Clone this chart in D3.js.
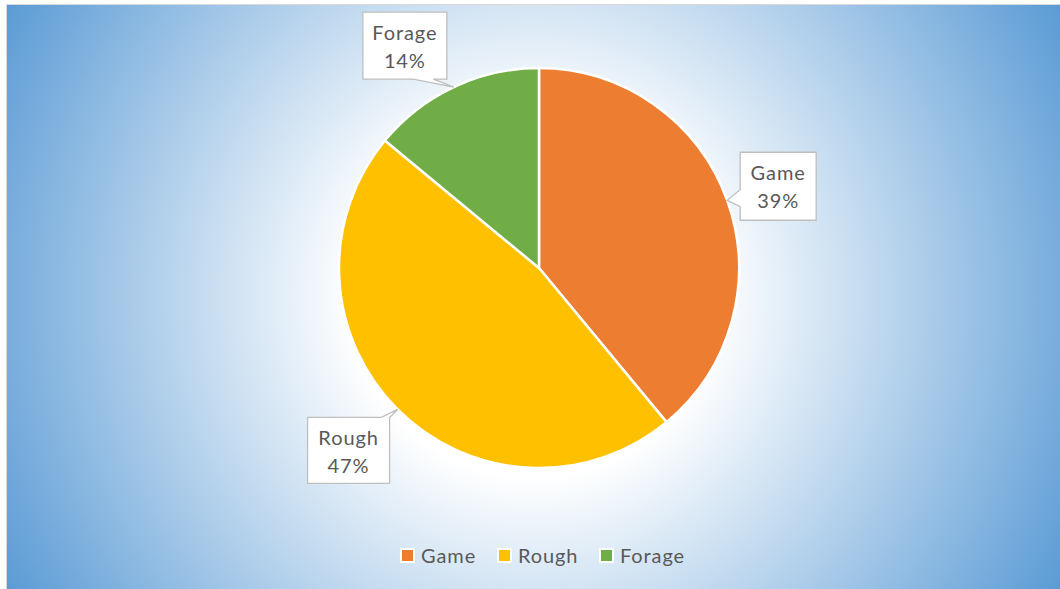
<!DOCTYPE html>
<html>
<head>
<meta charset="utf-8">
<script src="https://cdn.jsdelivr.net/npm/d3@7"></script>
<style>
  body { margin: 0; background: #fff; }
  svg { display: block; }
</style>
</head>
<body>
<script>
// data
var categories = ["Game", "Rough", "Forage"];
var shares = [39, 47, 14];
var colors = ["#ED7D31", "#FFC000", "#70AD47"];

var w = 1060, h = 589;
var cx = 539, cy = 268, radius = 200;

var svg = d3.select("body").append("svg")
    .attr("width", w)
    .attr("height", h);

// radial background like the office chart style
var defs = svg.append("defs");
var grad = defs.append("radialGradient")
    .attr("id", "bg")
    .attr("gradientUnits", "userSpaceOnUse")
    .attr("cx", 533).attr("cy", 297).attr("r", 602);
grad.append("stop").attr("offset", 0).attr("stop-color", "#ffffff");
grad.append("stop").attr("offset", 0.3).attr("stop-color", "#ffffff");
grad.append("stop").attr("offset", 1).attr("stop-color", "#5B9BD5");

svg.append("rect")
    .attr("x", 6.5).attr("y", 4.5)
    .attr("width", w).attr("height", h)
    .attr("fill", "url(#bg)")
    .attr("stroke", "#D9D9D9")
    .attr("stroke-width", 1);

var pie = d3.pie().sort(null).value(function(d) { return d; });
var arcs = pie(shares);
var arc = d3.arc().innerRadius(0).outerRadius(radius);

var g = svg.append("g").attr("transform", "translate(" + cx + "," + cy + ")");

g.selectAll("path.slice")
    .data(arcs)
    .enter()
    .append("path")
    .attr("class", "slice")
    .attr("d", arc)
    .attr("fill", function(d, i) { return colors[i]; })
    .attr("stroke", "#ffffff")
    .attr("stroke-width", 2.5)
    .attr("stroke-linejoin", "round");

// callout placement relative to the tip on the arc edge (box offset, box size, which side the pointer leaves from)
var callouts = [
    { dx: 13, dy: -48, bw: 76, bh: 68, side: "left", b0: 0.55, b1: 0.8 },   // Game
    { dx: -90, dy: 8, bw: 82, bh: 66, side: "top", b0: 0.9, b1: 1.0 },       // Rough
    { dx: -91, dy: -75, bw: 84, bh: 67, side: "bottom", b0: 0.6, b1: 0.84 }  // Forage
];

function calloutPath(tx, ty, c) {
    var x0 = tx + c.dx, y0 = ty + c.dy, x1 = x0 + c.bw, y1 = y0 + c.bh;
    var p = d3.path();
    if (c.side === "left") {
        var ya = y0 + c.bh * c.b0, yb = y0 + c.bh * c.b1;
        p.moveTo(x0, y0); p.lineTo(x1, y0); p.lineTo(x1, y1); p.lineTo(x0, y1);
        p.lineTo(x0, yb); p.lineTo(tx, ty); p.lineTo(x0, ya); p.closePath();
    } else if (c.side === "bottom") {
        var xa = x0 + c.bw * c.b0, xb = x0 + c.bw * c.b1;
        p.moveTo(x0, y0); p.lineTo(x1, y0); p.lineTo(x1, y1);
        p.lineTo(xb, y1); p.lineTo(tx, ty); p.lineTo(xa, y1);
        p.lineTo(x0, y1); p.closePath();
    } else {
        var xa2 = x0 + c.bw * c.b0, xb2 = x0 + c.bw * c.b1;
        p.moveTo(x0, y0); p.lineTo(xa2, y0); p.lineTo(tx, ty); p.lineTo(xb2, y0);
        p.lineTo(x1, y0); p.lineTo(x1, y1); p.lineTo(x0, y1); p.closePath();
    }
    return p.toString();
}

var font = "Lato, 'Open Sans', sans-serif";

arcs.forEach(function(d, i) {
    var mid = (d.startAngle + d.endAngle) / 2;
    var tx = cx + radius * Math.sin(mid);
    var ty = cy - radius * Math.cos(mid);
    var c = callouts[i];
    svg.append("path")
        .attr("d", calloutPath(tx, ty, c))
        .attr("fill", "#ffffff")
        .attr("stroke", "#BFBFBF")
        .attr("stroke-width", 1.3);
    var bx = tx + c.dx + c.bw / 2, by = ty + c.dy;
    var t = svg.append("text")
        .attr("x", bx)
        .attr("text-anchor", "middle")
        .attr("fill", "#595959")
        .style("font-family", font)
        .style("font-size", "20px")
        .style("letter-spacing", "0.9px");
    t.append("tspan").attr("x", bx).attr("y", by + 28).text(categories[i]);
    t.append("tspan").attr("x", bx).attr("y", by + 56).text(Math.round(d.value / d3.sum(shares) * 100) + "%");
});

// legend
var legendX = [401, 498, 600];
var legend = svg.selectAll("g.legend")
    .data(categories)
    .enter()
    .append("g")
    .attr("class", "legend")
    .attr("transform", function(d, i) { return "translate(" + legendX[i] + ",549)"; });

legend.append("rect")
    .attr("x", 0).attr("y", 0)
    .attr("width", 13).attr("height", 13)
    .attr("fill", function(d, i) { return colors[i]; })
    .attr("stroke", "#ffffff")
    .attr("stroke-width", 2);

legend.append("text")
    .attr("x", 20)
    .attr("y", 14)
    .attr("fill", "#595959")
    .style("font-family", font)
    .style("font-size", "20px")
    .style("letter-spacing", "0.9px")
    .text(function(d) { return d; });
</script>
</body>
</html>
